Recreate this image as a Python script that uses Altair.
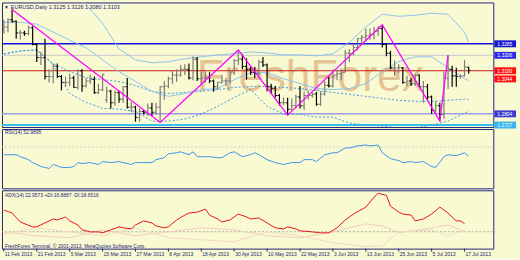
import altair as alt
import pandas as pd

# ---------------- data ----------------
date_labels = ["11 Feb 2013", "21 Feb 2013", "5 Mar 2013", "15 Mar 2013", "27 Mar 2013",
               "8 Apr 2013", "18 Apr 2013", "30 Apr 2013", "10 May 2013", "22 May 2013",
               "3 Jun 2013", "13 Jun 2013", "25 Jun 2013", "5 Jul 2013", "17 Jul 2013"]
label_bars = [0, 8, 16, 24, 32, 40, 48, 56, 64, 72, 80, 88, 96, 104, 112]

opens = [1.3365, 1.3400, 1.3450, 1.3440, 1.3360, 1.3360, 1.3355, 1.3395, 1.3280, 1.3190,
         1.3190, 1.3060, 1.3060, 1.3130, 1.3060, 1.3020, 1.3020, 1.3050, 1.2985, 1.3100,
         1.2995, 1.3030, 1.3040, 1.2950, 1.2970, 1.2900, 1.2960, 1.2880, 1.2950, 1.2905,
         1.2990, 1.2850, 1.2850, 1.2780, 1.2820, 1.2815, 1.2845, 1.2815, 1.2850, 1.2990,
         1.2995, 1.3045, 1.3070, 1.3070, 1.3110, 1.3110, 1.3050, 1.3180, 1.3045, 1.3050,
         1.3055, 1.3030, 1.2990, 1.3020, 1.3030, 1.3030, 1.3090, 1.3170, 1.3180, 1.3130,
         1.3110, 1.3090, 1.3080, 1.3160, 1.3140, 1.2990, 1.2980, 1.2930, 1.2880, 1.2880,
         1.2835, 1.2860, 1.2920, 1.2860, 1.2930, 1.2930, 1.2940, 1.2870, 1.2940, 1.3000,
         1.2995, 1.3070, 1.3080, 1.3090, 1.3220, 1.3220, 1.3260, 1.3320, 1.3330, 1.3340,
         1.3350, 1.3370, 1.3390, 1.3280, 1.3220, 1.3120, 1.3120, 1.3120, 1.3020, 1.3030,
         1.3010, 1.3070, 1.2990, 1.2990, 1.2920, 1.2830, 1.2860, 1.2800, 1.3050, 1.3110,
         1.3065, 1.3060, 1.3065, 1.3125]
highs = [1.3450, 1.3460, 1.3520, 1.3445, 1.3380, 1.3375, 1.3410, 1.3405, 1.3290, 1.3230,
         1.3320, 1.3110, 1.3150, 1.3150, 1.3070, 1.3060, 1.3080, 1.3065, 1.3110, 1.3110,
         1.3050, 1.3075, 1.3060, 1.3010, 1.3080, 1.2990, 1.2970, 1.2965, 1.2965, 1.2995,
         1.3050, 1.2885, 1.2860, 1.2840, 1.2830, 1.2875, 1.2880, 1.2880, 1.2995, 1.3030,
         1.3060, 1.3105, 1.3110, 1.3140, 1.3145, 1.3150, 1.3200, 1.3195, 1.3095, 1.3095,
         1.3090, 1.3040, 1.3025, 1.3070, 1.3050, 1.3110, 1.3180, 1.3243, 1.3215, 1.3185,
         1.3125, 1.3125, 1.3175, 1.3195, 1.3150, 1.3010, 1.2995, 1.2940, 1.2915, 1.2915,
         1.2910, 1.2935, 1.2995, 1.2955, 1.2965, 1.2950, 1.2955, 1.2960, 1.3030, 1.3060,
         1.3110, 1.3105, 1.3115, 1.3245, 1.3250, 1.3280, 1.3325, 1.3345, 1.3390, 1.3390,
         1.3400, 1.3405, 1.3416, 1.3290, 1.3235, 1.3170, 1.3145, 1.3125, 1.3065, 1.3050,
         1.3080, 1.3075, 1.3030, 1.3010, 1.2930, 1.2890, 1.2880, 1.3095, 1.3207, 1.3135,
         1.3120, 1.3075, 1.3175, 1.3126]
lows = [1.3355, 1.3365, 1.3430, 1.3320, 1.3315, 1.3340, 1.3345, 1.3275, 1.3160, 1.3140,
        1.3040, 1.3020, 1.3015, 1.3050, 1.2965, 1.2990, 1.2995, 1.2985, 1.2970, 1.2955,
        1.2985, 1.3010, 1.2940, 1.2940, 1.2960, 1.2880, 1.2840, 1.2860, 1.2880, 1.2880,
        1.2840, 1.2815, 1.2750, 1.2750, 1.2800, 1.2790, 1.2790, 1.2800, 1.2745, 1.2900,
        1.2980, 1.3010, 1.3025, 1.3060, 1.3070, 1.3040, 1.3035, 1.3030, 1.3010, 1.3020,
        1.3015, 1.2955, 1.2970, 1.3010, 1.2995, 1.3015, 1.3070, 1.3140, 1.3110, 1.3040,
        1.3070, 1.3050, 1.3070, 1.3125, 1.2960, 1.2940, 1.2915, 1.2860, 1.2865, 1.2795,
        1.2825, 1.2840, 1.2840, 1.2830, 1.2900, 1.2915, 1.2860, 1.2860, 1.2930, 1.2985,
        1.2985, 1.3035, 1.3035, 1.3090, 1.3160, 1.3205, 1.3240, 1.3280, 1.3300, 1.3310,
        1.3315, 1.3340, 1.3260, 1.3200, 1.3110, 1.3065, 1.3085, 1.3010, 1.2995, 1.2995,
        1.2995, 1.2990, 1.2880, 1.2900, 1.2805, 1.2810, 1.2755, 1.2770, 1.2975, 1.2990,
        1.2990, 1.3045, 1.3060, 1.3080]
closes = [1.3400, 1.3450, 1.3440, 1.3360, 1.3360, 1.3355, 1.3395, 1.3280, 1.3190, 1.3190,
          1.3060, 1.3060, 1.3130, 1.3060, 1.3020, 1.3020, 1.3050, 1.2985, 1.3100, 1.2995,
          1.3030, 1.3040, 1.2950, 1.2970, 1.3075, 1.2960, 1.2880, 1.2950, 1.2905, 1.2990,
          1.2850, 1.2850, 1.2780, 1.2820, 1.2815, 1.2845, 1.2815, 1.2850, 1.2990, 1.2995,
          1.3045, 1.3070, 1.3070, 1.3110, 1.3110, 1.3050, 1.3180, 1.3045, 1.3050, 1.3055,
          1.3030, 1.2990, 1.3020, 1.3030, 1.3030, 1.3090, 1.3170, 1.3180, 1.3130, 1.3110,
          1.3090, 1.3080, 1.3160, 1.3140, 1.2990, 1.2980, 1.2930, 1.2880, 1.2880, 1.2835,
          1.2860, 1.2920, 1.2860, 1.2930, 1.2930, 1.2940, 1.2870, 1.2940, 1.3000, 1.2995,
          1.3070, 1.3080, 1.3090, 1.3220, 1.3220, 1.3260, 1.3320, 1.3330, 1.3340, 1.3350,
          1.3370, 1.3390, 1.3280, 1.3220, 1.3120, 1.3120, 1.3120, 1.3020, 1.3030, 1.3010,
          1.3070, 1.2990, 1.2990, 1.2920, 1.2830, 1.2860, 1.2800, 1.3050, 1.3110, 1.3065,
          1.3060, 1.3065, 1.3125, 1.3103]

zig_bars = [2, 38, 57, 69, 92, 106, 108]
zig_prices = [1.3520, 1.2745, 1.3243, 1.2795, 1.3416, 1.2755, 1.3207]

band_bars = [0, 4, 8, 12, 16, 20, 24, 28, 32, 36, 40, 44, 48, 52, 56, 60, 64, 68, 72, 76,
             80, 84, 88, 92, 96, 100, 104, 108, 112, 113]
band_upper = [1.3739, 1.3732, 1.3718, 1.3691, 1.3637, 1.3555, 1.3426, 1.3250, 1.3175, 1.3155,
              1.3162, 1.3182, 1.3196, 1.3209, 1.3216, 1.3229, 1.3223, 1.3209, 1.3209, 1.3202,
              1.3216, 1.3297, 1.3400, 1.3488, 1.3474, 1.3481, 1.3495, 1.3488, 1.3365, 1.3297]
band_middle = [1.3433, 1.3433, 1.3420, 1.3365, 1.3311, 1.3257, 1.3175, 1.3094, 1.3026, 1.2958,
               1.2924, 1.2944, 1.2971, 1.2978, 1.3039, 1.3087, 1.3087, 1.3046, 1.3012, 1.2978,
               1.2971, 1.2978, 1.3012, 1.3094, 1.3162, 1.3196, 1.3196, 1.3121, 1.3046, 1.3033]
band_lower = [1.3216, 1.3236, 1.3243, 1.3141, 1.2944, 1.2883, 1.2842, 1.2836, 1.2822, 1.2754,
              1.2754, 1.2768, 1.2802, 1.2856, 1.2917, 1.2971, 1.2856, 1.2802, 1.2802, 1.2781,
              1.2781, 1.2741, 1.2727, 1.2720, 1.2707, 1.2707, 1.2727, 1.2754, 1.2809, 1.2822]
slow_ma = [1.3216, 1.3236, 1.3243, 1.3148, 1.3094, 1.3053, 1.3039, 1.3026, 1.2998, 1.2958,
           1.2944, 1.2951, 1.2958, 1.2971, 1.2985, 1.2992, 1.2992, 1.2985, 1.2978, 1.2965,
           1.2951, 1.2938, 1.2924, 1.2910, 1.2897, 1.2890, 1.2890, 1.2897, 1.2904, 1.2904]

price_ticks = [1.3555, 1.3440, 1.3320, 1.2965, 1.2845]
level_blue, level_grey, level_red, level_lav, level_cyan = 1.3285, 1.3206, 1.3100, 1.2804, 1.2727
box_prices = [1.3285, 1.3206, 1.3100, 1.3044, 1.2804, 1.2727]
box_texts = ["1.3285", "1.3206", "1.3100", "1.3044", "1.2804", "1.2727"]

rsi_bars = [0, 3, 4, 6, 7, 9, 11, 12, 14, 16, 17, 18, 19, 21, 23, 24, 26, 28, 29, 31,
            32, 34, 36, 37, 39, 40, 42, 43, 45, 46, 47, 48, 50, 52, 53, 55, 56, 58, 60, 61,
            62, 64, 66, 68, 70, 72, 73, 75, 76, 78, 80, 81, 83, 84, 86, 88, 89, 91, 92, 94,
            96, 97, 99, 100, 102, 104, 105, 107, 108, 110, 112, 113]
rsi_vals = [55.5, 55.5, 51.8, 46.3, 40.8, 33.5, 29.8, 37.2, 31.7, 31.7,
            33.5, 40.8, 39.0, 40.8, 37.2, 42.7, 40.8, 42.7, 40.8, 37.2,
            40.8, 40.8, 40.8, 46.3, 50.0, 57.3, 59.2, 61.0, 55.5, 61.0,
            51.8, 51.8, 51.8, 50.0, 50.0, 59.2, 61.0, 51.8, 55.5, 59.2,
            55.5, 46.3, 40.8, 37.2, 40.8, 40.8, 46.3, 46.3, 42.7, 55.5,
            59.2, 59.2, 68.3, 68.3, 72.0, 73.8, 72.0, 73.8, 59.2, 48.2,
            44.5, 40.8, 42.7, 40.8, 42.7, 33.5, 31.7, 51.8, 55.5, 53.7,
            59.2, 53.0]
rsi_ticks = [100, 70, 30, 0]
rsi_level = 70

adx_bars = [0, 2, 4, 7, 8, 10, 12, 13, 15, 16, 18, 19, 21, 23, 24, 26, 28, 29, 31, 32,
            34, 36, 37, 39, 40, 42, 44, 45, 47, 49, 50, 52, 53, 55, 57, 59, 60, 62, 64, 66,
            68, 69, 71, 72, 75, 77, 79, 81, 83, 85, 88, 90, 91, 93, 94, 96, 97, 99, 100, 102,
            104, 106, 108, 110, 111, 112]
adx_vals = [33.0, 30.8, 24.2, 20.6, 20.6, 23.5, 26.4, 25.7, 27.9, 25.0,
            22.0, 18.4, 16.9, 16.9, 16.2, 18.4, 20.6, 19.9, 19.1, 22.0,
            25.0, 23.5, 21.3, 19.9, 20.6, 25.7, 29.3, 30.8, 31.5, 33.7,
            29.3, 26.4, 24.2, 25.7, 30.1, 27.9, 26.4, 27.2, 23.5, 19.9,
            19.1, 20.6, 19.1, 17.7, 16.9, 16.2, 16.2, 19.9, 25.7, 30.1,
            35.2, 42.5, 45.4, 43.9, 35.9, 31.5, 30.1, 29.3, 25.0, 26.4,
            30.1, 35.2, 30.8, 25.0, 25.0, 23.0]
di_bars = [0, 8, 16, 24, 32, 40, 48, 56, 64, 72, 80, 88, 92, 96, 104, 108, 112]
plus_di = [16.9, 14.0, 12.6, 18.4, 14.0, 16.9, 19.9, 18.4, 14.0, 12.6, 16.9, 22.8, 21.3, 16.2, 19.9, 22.0, 16.9]
minus_di = [15.5, 19.9, 16.9, 14.0, 19.9, 12.6, 11.1, 9.6, 16.9, 14.0, 8.9, 6.0, 6.7, 16.9, 18.4, 14.0, 18.6]
adx_ticks = [45.4, 17, 6]
adx_level = 17

title_main = "EURUSD,Daily  1.3125 1.3126 1.3080 1.3103"
title_rsi = "RSI(14) 52.9895"
title_adx = "ADX(14) 22.9573 +DI:16.8887 -DI:18.6516"
footer = "FreshForex Terminal, \u00a9 2001-2013, MetaQuotes Software Corp."
watermark = "FreshForex"

# ---------------- styling ----------------
FONT = "Liberation Sans"
NAVY = "#23237a"
BG = "#fafad2"
W = 497
H1, H2, H3 = 126, 60, 59

xs = alt.Scale(domain=[-0.457, 119.0], nice=False, zero=False)
ps = alt.Scale(domain=[1.27135, 1.3569], nice=False, zero=False)
rs = alt.Scale(domain=[-7.4, 103.7], nice=False, zero=False)
ds = alt.Scale(domain=[4.54, 47.6], nice=False, zero=False)


def right_axis(values, fmt):
    return alt.Axis(orient="right", values=values, format=fmt, labelFontSize=5, labelFont=FONT,
                    labelColor="#333344", tickSize=2, tickColor=NAVY, domain=False, grid=False,
                    title=None, labelPadding=1, labelFlush=False, labelOverlap=False)


def txt(text, x, y, size=5, color=NAVY, align="left", baseline="middle", **kw):
    return alt.Chart(pd.DataFrame({"t": [text]})).mark_text(
        font=FONT, fontSize=size, color=color, align=align, baseline=baseline, **kw
    ).encode(x=alt.value(x), y=alt.value(y), text="t:N")


def hline(value, scale, color, width=1, dash=None):
    kw = dict(color=color, strokeWidth=width)
    if dash:
        kw["strokeDash"] = dash
    return alt.Chart(pd.DataFrame({"v": [value]})).mark_rule(**kw).encode(
        y=alt.Y("v:Q", scale=scale, axis=None))


# ---------------- price panel ----------------
ohlc = pd.DataFrame({"i": list(range(len(opens))), "o": opens, "h": highs, "l": lows, "c": closes})
bar_col = alt.when(alt.datum.c >= alt.datum.o).then(alt.value("#7a7a7a")).otherwise(alt.value("#000000"))

wick = alt.Chart(ohlc).mark_rule(strokeWidth=1.2).encode(
    x=alt.X("i:Q", scale=xs, axis=None),
    y=alt.Y("l:Q", scale=ps, axis=right_axis(price_ticks, ".4f")),
    y2="h:Q", color=bar_col)
open_tick = alt.Chart(ohlc).transform_calculate(xa="datum.i - 0.45").mark_rule(strokeWidth=1).encode(
    x=alt.X("xa:Q", scale=xs, axis=None), x2="i:Q",
    y=alt.Y("o:Q", scale=ps, axis=None), color=bar_col)
close_tick = alt.Chart(ohlc).transform_calculate(xb="datum.i + 0.45").mark_rule(strokeWidth=1).encode(
    x=alt.X("i:Q", scale=xs, axis=None), x2="xb:Q",
    y=alt.Y("c:Q", scale=ps, axis=None), color=bar_col)

bands = pd.DataFrame({"i": band_bars, "u": band_upper, "m": band_middle, "lo": band_lower, "s": slow_ma})


def band(field, color, dash=None, width=1):
    kw = dict(color=color, strokeWidth=width, clip=True)
    if dash:
        kw["strokeDash"] = dash
    return alt.Chart(bands).mark_line(**kw).encode(
        x=alt.X("i:Q", scale=xs, axis=None), y=alt.Y(f"{field}:Q", scale=ps, axis=None))


zig = alt.Chart(pd.DataFrame({"i": zig_bars, "p": zig_prices})).mark_line(
    color="#ff00ff", strokeWidth=1.3).encode(
    x=alt.X("i:Q", scale=xs, axis=None), y=alt.Y("p:Q", scale=ps, axis=None))

box_colors = ["#1414d2", "#2a2ae6", "#ff1010", "#ff1010", "#3a3ad0", "#35b4f0"]
boxes = []
for p, t, col in zip(box_prices, box_texts, box_colors):
    d = pd.DataFrame({"p": [p], "t": [t]})
    boxes.append(alt.Chart(d).mark_rule(color=col, strokeWidth=7, strokeCap="butt").encode(
        y=alt.Y("p:Q", scale=ps, axis=None), x=alt.value(498), x2=alt.value(520)))
    boxes.append(alt.Chart(d).mark_text(font=FONT, fontSize=5, color="white", align="left",
                                        baseline="middle").encode(
        y=alt.Y("p:Q", scale=ps, axis=None), x=alt.value(501), text="t:N"))

price = alt.layer(
    txt(watermark, 197, 90, size=45, color="#e2bb8a", baseline="alphabetic", opacity=0.85),
    hline(level_grey, ps, "#c6c6cc", 1),
    hline(level_blue, ps, "#1414e0", 1.5),
    hline(level_red, ps, "#cc1414", 1),
    hline(level_lav, ps, "#9c9ce6", 1.5),
    hline(level_cyan, ps, "#35c0f0", 2),
    band("s", "#3c9ae6", dash=[2, 2]),
    band("lo", "#3c9ae6", dash=[2, 2]),
    band("u", "#8cc2ee"),
    band("m", "#8cc2ee"),
    wick, open_tick, close_tick,
    zig,
    txt("\u25bc", 2, 5, size=5),
    txt(title_main, 9, 5, size=5.5),
    *boxes,
).properties(width=W, height=H1)

# ---------------- RSI panel ----------------
rsi_df = pd.DataFrame({"i": rsi_bars, "v": rsi_vals})
rsi = alt.layer(
    hline(rsi_level, rs, "#cfcfb4", 1, dash=[2, 2]),
    alt.Chart(rsi_df).mark_line(color="#3996e8", strokeWidth=1).encode(
        x=alt.X("i:Q", scale=xs, axis=None),
        y=alt.Y("v:Q", scale=rs, axis=right_axis(rsi_ticks, "d"))),
    txt(title_rsi, 3, 3.5),
).properties(width=W, height=H2)

# ---------------- ADX panel ----------------
date_df = pd.DataFrame({"i": label_bars, "t": date_labels})
date_ticks = alt.Chart(date_df).mark_rule(color=NAVY, strokeWidth=1).encode(
    x=alt.X("i:Q", scale=xs, axis=None), y=alt.value(H3), y2=alt.value(H3 + 3))
date_text = alt.Chart(date_df).mark_text(font=FONT, fontSize=5, color=NAVY, align="left",
                                         baseline="middle", dx=1).encode(
    x=alt.X("i:Q", scale=xs, axis=None), y=alt.value(H3 + 5.5), text="t:N")

adx_df = pd.DataFrame({"i": adx_bars, "v": adx_vals})
di_df = pd.DataFrame({"i": di_bars, "p": plus_di, "m": minus_di})
adx = alt.layer(
    hline(adx_level, ds, "#a8a8a8", 1, dash=[2, 2]),
    alt.Chart(di_df).mark_line(color="#f3cdb8", strokeWidth=1).encode(
        x=alt.X("i:Q", scale=xs, axis=None), y=alt.Y("p:Q", scale=ds, axis=None)),
    alt.Chart(di_df).mark_line(color="#efd9c2", strokeWidth=1).encode(
        x=alt.X("i:Q", scale=xs, axis=None), y=alt.Y("m:Q", scale=ds, axis=None)),
    alt.Chart(adx_df).mark_line(color="#e81414", strokeWidth=1).encode(
        x=alt.X("i:Q", scale=xs, axis=None),
        y=alt.Y("v:Q", scale=ds, axis=right_axis(adx_ticks, "~g"))),
    date_ticks, date_text,
    txt(title_adx, 3, 5),
    txt(footer, 3, 56),
).properties(width=W, height=H3)

chart = alt.vconcat(price, rsi, adx, spacing=2, bounds="flush").configure(
    background=BG, padding=0
).configure_view(stroke=NAVY, strokeWidth=1)

chart.save("out.html", embed_options={"renderer": "svg", "actions": False})
